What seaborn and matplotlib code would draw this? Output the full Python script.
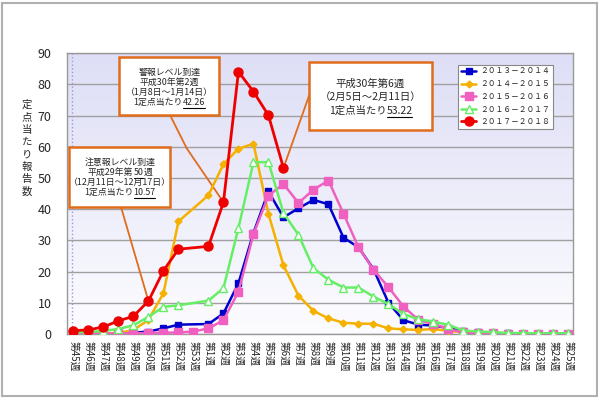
import numpy as np
import pandas as pd
import matplotlib
matplotlib.use("Agg")
import matplotlib.pyplot as plt
import seaborn as sns
from matplotlib.patches import Rectangle
from matplotlib.lines import Line2D

nan = np.nan

# week labels: 45..53 of the first year, 1..25 of the next
weeks = ["第%d週" % w for w in list(range(45, 54)) + list(range(1, 26))]

s1314 = [0.2, 0.2, 0.0, 0.3, 0.4, 0.8, 1.8, 3.0, nan, 3.2, 6.6, 16.3, 32.4, 45.7, 37.4, 40.3, 43.0,
         41.6, 30.9, 27.8, 20.8, 10.0, 4.4, 3.0, 2.7, 1.9, 1.0, 0.5, 0.3, 0.2, 0.1, 0.1, 0.1, 0.1]
s1415 = [0.1, 0.1, 0.2, 0.3, 1.3, 4.5, 13.1, 36.1, nan, 44.5, 54.5, 59.4, 61.0, 38.5, 22.0, 12.3, 7.4,
         5.0, 3.6, 3.3, 3.3, 1.8, 1.5, 1.3, 1.6, 1.0, 0.6, 0.4, 0.3, 0.2, 0.1, 0.1, 0.1, 0.1]
s1516 = [0.1, 0.1, 0.1, 0.2, 0.2, 0.3, 0.4, 0.5, 0.8, 1.8, 4.4, 13.6, 32.0, 44.4, 48.1, 42.0, 46.3,
         49.2, 38.6, 27.8, 20.6, 15.0, 8.8, 4.5, 3.2, 1.6, 0.5, 0.2, 0.2, 0.1, 0.1, 0.1, 0.1, 0.1]
s1617 = [0.5, 0.6, 1.0, 1.6, 2.8, 5.5, 8.7, 9.2, nan, 10.7, 14.7, 34.0, 55.1, 55.1, 38.8, 31.8, 21.1,
         17.4, 14.9, 14.9, 12.0, 9.6, 6.4, 4.7, 4.0, 2.9, 1.1, 0.8, 0.6, 0.3, 0.3, 0.2, 0.2, 0.2]
s1718 = [1.1, 1.3, 2.3, 4.2, 5.7, 10.57, 20.3, 27.2, nan, 28.1, 42.26, 84.1, 77.7, 70.1, 53.22] + [nan] * 19

seasons = ["２０１３－２０１４", "２０１４－２０１５", "２０１５－２０１６", "２０１６－２０１７", "２０１７－２０１８"]
values = [s1314, s1415, s1516, s1617, s1718]

rows = []
for season, vals in zip(seasons, values):
    for i, v in enumerate(vals):
        rows.append({"x": i, "week": weeks[i], "value": v, "season": season})
df = pd.DataFrame(rows).dropna()

sns.set_style("white")
plt.rcParams['font.family'] = ['Noto Sans CJK JP', 'DejaVu Sans']

W, H = 600, 399
fx = lambda px: px / W
fy = lambda py: 1 - py / H

fig = plt.figure(figsize=(6, 3.99), dpi=100)
ax = fig.add_axes([fx(66.7), fy(334), (573 - 66.7) / W, (334 - 53.3) / H])

xmin, xmax = -0.45, 33.3

# lavender gradient background
grad = np.linspace(0, 1, 100)[:, None]
top = np.array([222, 222, 246]) / 255
bot = np.array([252, 252, 255]) / 255
img = bot + (top - bot) * grad[..., None]
ax.imshow(img, extent=[xmin, xmax, 0, 90], aspect='auto', origin='lower', zorder=0)

styles = [
    ("#0000cc", "s", 4.5, "#0000cc"),
    ("#f5b000", "D", 3.5, "#f5b000"),
    ("#f060c0", "s", 5.5, "#f060c0"),
    ("#66ee66", "^", 5.5, "white"),
    ("#ee0000", "o", 6.5, "#ee0000"),
]
for k, (season, (col, mk, ms, mfc)) in enumerate(zip(seasons, styles)):
    sub = df[df.season == season]
    sns.lineplot(data=sub, x="x", y="value", ax=ax, color=col, marker=mk, markersize=ms,
                 markerfacecolor=mfc, markeredgecolor=col, markeredgewidth=1,
                 linewidth=2 if k == 4 else 1.8, label=season, zorder=3 + k)

ax.axvline(-0.12, color='#9999dd', lw=1, ls=':', zorder=1)

ax.set_xlim(xmin, xmax)
ax.set_ylim(0, 90)
ax.set_yticks(range(0, 91, 10))
ax.set_xticks(range(len(weeks)))
ax.set_xticklabels(weeks, rotation=-90, fontsize=7)
ax.set_xticks(np.arange(0.5, 33, 1), minor=True)
ax.tick_params(axis='x', which='major', length=0, pad=5)
ax.tick_params(axis='x', which='minor', length=4, direction='in', color='#888888', width=0.8)
ax.tick_params(axis='y', length=0, pad=11, labelsize=9)
ax.set_xlabel('')
ax.set_ylabel('')
ax.yaxis.grid(True, color='#a0a0a0', lw=1)
ax.set_axisbelow(True)
for sp in ax.spines.values():
    sp.set_color('#999999')
    sp.set_linewidth(1)

leg = ax.legend(loc='upper left', bbox_to_anchor=(fx(458), fy(65)), bbox_transform=fig.transFigure,
                fontsize=5.6, frameon=True, fancybox=False, edgecolor='#888888', framealpha=1,
                handlelength=1.9, handletextpad=0.5, labelspacing=0.58, borderpad=0.4, borderaxespad=0)
leg.get_frame().set_linewidth(0.8)

# vertical y-axis title, one character per line
for k, ch in enumerate("定点当たり報告数"):
    fig.text(fx(27), fy(105 + 12.4 * k), ch, ha='center', va='center', fontsize=7.5)

# outer frame
fig.patches.append(Rectangle((fx(2), fy(396)), 595 / W, 393 / H, transform=fig.transFigure,
                             fill=False, edgecolor='#b0b0b0', lw=1.5, zorder=1))

orange = '#e06c1c'
renderer = fig.canvas.get_renderer()


def box(x0, y0, x1, y1):
    fig.patches.append(Rectangle((fx(x0), fy(y1)), (x1 - x0) / W, (y1 - y0) / H,
                                 transform=fig.transFigure, facecolor='white',
                                 edgecolor=orange, lw=1.8, zorder=5))


def text_line(cx, cy, parts, size):
    objs = [fig.text(0, 0, s, fontsize=size, ha='left', va='center', zorder=7) for s, _ in parts]
    widths = [t.get_window_extent(renderer).width for t in objs]
    x = cx - sum(widths) / 2
    for t, w, (s, ul) in zip(objs, widths, parts):
        t.set_position((fx(x), fy(cy)))
        if ul:
            uy = cy + size * 100 / 72 * 0.6
            fig.lines.append(Line2D([fx(x + 0.5), fx(x + w - 0.5)], [fy(uy), fy(uy)],
                                    transform=fig.transFigure, color='black', lw=0.8, zorder=7))
        x += w


# leader lines
ax.annotate('', xy=(10, 42.26), xytext=(fx(186.7), fy(148.3)), textcoords='figure fraction',
            arrowprops=dict(arrowstyle='-', color=orange, lw=1.3, shrinkA=0, shrinkB=0), zorder=2)
ax.annotate('', xy=(fx(186.7), fy(148.3)), xycoords='figure fraction', xytext=(fx(170), fy(115)),
            textcoords='figure fraction',
            arrowprops=dict(arrowstyle='-', color=orange, lw=1.3, shrinkA=0, shrinkB=0), zorder=2)
ax.annotate('', xy=(5, 10.57), xytext=(fx(121), fy(207)), textcoords='figure fraction',
            arrowprops=dict(arrowstyle='-', color=orange, lw=1.3, shrinkA=0, shrinkB=0), zorder=2)
ax.annotate('', xy=(14, 53.22), xytext=(fx(310), fy(93)), textcoords='figure fraction',
            arrowprops=dict(arrowstyle='-', color=orange, lw=1.3, shrinkA=0, shrinkB=0), zorder=2)

box(119.3, 56.7, 219.3, 115)
text_line(169.3, 72.3, [("警報レベル到達", False)], 6.4)
text_line(169.3, 82.3, [("平成30年第2週", False)], 6.4)
text_line(169.3, 92.3, [("（1月8日～1月14日）", False)], 6.4)
text_line(169.3, 102.3, [("1定点当たり", False), ("42.26", True)], 6.4)

box(69, 147, 170, 206.7)
text_line(120, 162.7, [("注意報レベル到達", False)], 6.4)
text_line(120, 172.7, [("平成29年第", False), ("50", True), ("週", False)], 6.4)
text_line(120, 182.7, [("（12月11日～12月17日）", False)], 6.4)
text_line(120, 192.7, [("1定点当たり", False), ("10.57", True)], 6.4)

box(309.3, 62.3, 431.7, 130)
text_line(370.5, 83.3, [("平成30年第6週", False)], 7.5)
text_line(370.5, 96.7, [("（2月5日～2月11日）", False)], 7.5)
text_line(370.5, 110.7, [("1定点当たり", False), ("53.22", True)], 7.5)

fig.savefig("out.png", dpi=100)
